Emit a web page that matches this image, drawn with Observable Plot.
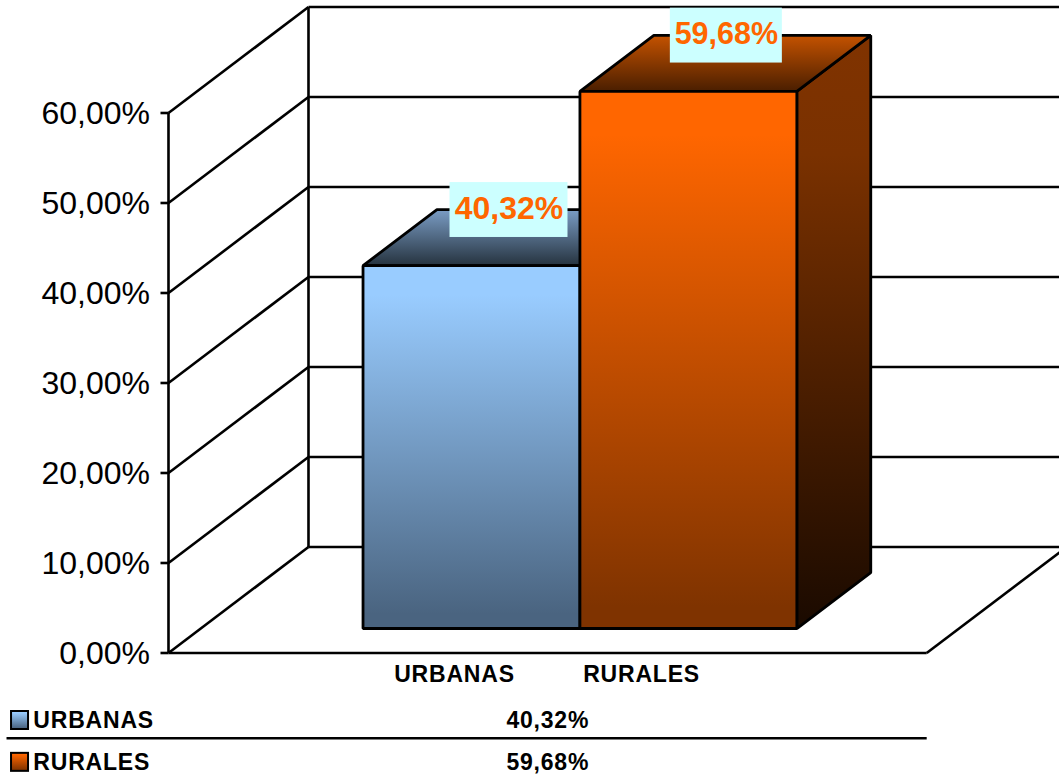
<!DOCTYPE html>
<html>
<head>
<meta charset="utf-8">
<script src="https://cdn.jsdelivr.net/npm/d3@7"></script>
<script src="https://cdn.jsdelivr.net/npm/@observablehq/plot@0.6"></script>
<style>
  html, body { margin: 0; padding: 0; background: #fff; overflow: hidden; }
  svg { display: block; }
  .spaced text, text.spaced { letter-spacing: 0.8px; }
</style>
</head>
<body>
<script>
// Data
const categories = ["URBANAS", "RURALES"];
const values = [40.32, 59.68];
const valueLabels = ["40,32%", "59,68%"];
const yTicks = [0, 10, 20, 30, 40, 50, 60];
const yTickLabels = ["0,00%", "10,00%", "20,00%", "30,00%", "40,00%", "50,00%", "60,00%"];

// Colours (gradient stops: offset, colour)
const gradients = {
  uFront: [[0, "#99ccff"], [0.08, "#99ccff"], [0.96, "#4a6480"], [1, "#4a6480"]],
  uTop:   [[0, "#7a9cc4"], [1, "#26333f"]],
  uSide:  [[0, "#4c667f"], [1, "#1a2530"]],
  oFront: [[0, "#ff6600"], [0.08, "#ff6600"], [0.96, "#7f3300"], [1, "#7f3300"]],
  oTop:   [[0, "#c45200"], [1, "#4a1e00"]],
  oSide:  [[0, "#803300"], [0.2, "#7a3100"], [1, "#1a0a00"]]
};
const faces = [
  {front: "uFront", top: "uTop", side: "uSide"},
  {front: "oFront", top: "oTop", side: "oSide"}
];

// Chart-space constants: x in bar widths along the floor, y in percent, z in depth fraction
const depthX = 0.6422, depthY = 11.78;
const floorWidth = 3.478, barStart = 0.744, barWidth = 0.995, barZ0 = 0.231, barZ1 = 0.759;
const proj = (u, p, z) => ({x: u + z * depthX, y: p + z * depthY});
const yTop = 60;
const tickLen = 0.0367;

// Label placement
const catLabelX = [1.312, 2.170], catLabelY = -2.4;
const rowY = [-7.5, -12.15], ruleRowY = -9.47;
const tableValueX = 1.74, tableLeft = -0.743;
const labelHalfW = [0.2706, 0.2569], labelCenterX = [1.562, 2.559], labelCenterY = [49.22, 68.6], labelHalfH = 3.05;
const labelSize = [32, 30.5], labelTextY = [49.4, 68.8];
const swatchX = [-0.72, -0.642], swatchH = 1.0;
const tickLabelY = -0.1;

const poly = (pts, fill) => Plot.line(pts, {
  x: "x", y: "y", curve: "linear-closed",
  fill, stroke: "#000", strokeWidth: 2.8, strokeLinejoin: "miter"
});

function defs() {
  const d = d3.create("svg:defs");
  for (const [id, stops] of Object.entries(gradients)) {
    const g = d.append("linearGradient").attr("id", id)
      .attr("x1", 0).attr("y1", 0).attr("x2", 0).attr("y2", 1);
    for (const [o, c] of stops) g.append("stop").attr("offset", o).attr("stop-color", c);
  }
  return d.node();
}

const lineOpts = {stroke: "#000", strokeWidth: 2.6};
const frame = [
  Plot.link(yTicks, {x1: -tickLen, x2: 0, y1: d => d, y2: d => d, ...lineOpts}),
  Plot.link(yTicks, {x1: 0, x2: depthX, y1: d => d, y2: d => d + depthY, ...lineOpts}),
  Plot.link(yTicks, {x1: depthX, x2: 5, y1: d => d + depthY, y2: d => d + depthY, ...lineOpts}),
  Plot.link([0], {x1: 0, x2: 0, y1: 0, y2: yTop, ...lineOpts}),
  Plot.link([0], {x1: depthX, x2: depthX, y1: depthY, y2: yTop + depthY, ...lineOpts}),
  Plot.link([0], {x1: 0, x2: floorWidth, y1: 0, y2: 0, ...lineOpts}),
  Plot.link([0], {x1: floorWidth, x2: floorWidth + depthX, y1: 0, y2: depthY, ...lineOpts})
];

const bars = categories.flatMap((c, i) => {
  const u0 = barStart + i * barWidth, u1 = u0 + barWidth, v = values[i], f = faces[i];
  return [
    poly([proj(u1, 0, barZ0), proj(u1, 0, barZ1), proj(u1, v, barZ1), proj(u1, v, barZ0)], `url(#${f.side})`),
    poly([proj(u0, v, barZ0), proj(u1, v, barZ0), proj(u1, v, barZ1), proj(u0, v, barZ1)], `url(#${f.top})`),
    poly([proj(u0, 0, barZ0), proj(u1, 0, barZ0), proj(u1, v, barZ0), proj(u0, v, barZ0)], `url(#${f.front})`)
  ];
});

const bold = {fontWeight: "bold", fontFamily: "Liberation Sans, Arial, sans-serif", fontSize: 23, fill: "#000", className: "spaced", lineAnchor: "middle"};

const chart = Plot.plot({
  width: 1059, height: 775,
  marginTop: 0, marginRight: 0, marginBottom: 0, marginLeft: 0,
  style: {background: "#fff"},
  x: {domain: [-0.7706, 4.0872], range: [0, 1059], axis: null},
  y: {domain: [-13.611, 72.5], range: [775, 0], axis: null},
  marks: [
    defs,
    ...frame,
    ...bars,
    // y tick labels
    Plot.text(yTicks, {
      x: -0.085, y: d => d + tickLabelY, text: (d, i) => yTickLabels[i],
      textAnchor: "end", lineAnchor: "middle", fontSize: 32,
      fontFamily: "Liberation Sans, Arial, sans-serif", fill: "#000"
    }),
    // value labels
    Plot.rect(categories, {
      x1: (d, i) => labelCenterX[i] - labelHalfW[i], x2: (d, i) => labelCenterX[i] + labelHalfW[i],
      y1: (d, i) => labelCenterY[i] - labelHalfH, y2: (d, i) => labelCenterY[i] + labelHalfH,
      fill: "#ccffff"
    }),
    Plot.text(valueLabels, {
      x: (d, i) => labelCenterX[i], y: (d, i) => labelTextY[i], text: d => d,
      fontSize: (d, i) => labelSize[i], fontWeight: "bold", fill: "#ff6600", lineAnchor: "middle",
      fontFamily: "Liberation Sans, Arial, sans-serif"
    }),
    // category labels
    Plot.text(categories, {x: (d, i) => catLabelX[i], y: catLabelY, text: d => d, ...bold}),
    // data table
    Plot.link([0], {x1: tableLeft, x2: floorWidth, y1: ruleRowY, y2: ruleRowY, ...lineOpts}),
    Plot.rect(categories, {
      x1: swatchX[0], x2: swatchX[1],
      y1: (d, i) => rowY[i] - swatchH, y2: (d, i) => rowY[i] + swatchH,
      fill: (d, i) => `url(#${faces[i].front})`, stroke: "#000", strokeWidth: 2
    }),
    Plot.text(categories, {x: -0.62, y: (d, i) => rowY[i], text: d => d, textAnchor: "start", ...bold}),
    Plot.text(valueLabels, {x: tableValueX, y: (d, i) => rowY[i], text: d => d, ...bold})
  ]
});
document.body.appendChild(chart);
</script>
</body>
</html>
